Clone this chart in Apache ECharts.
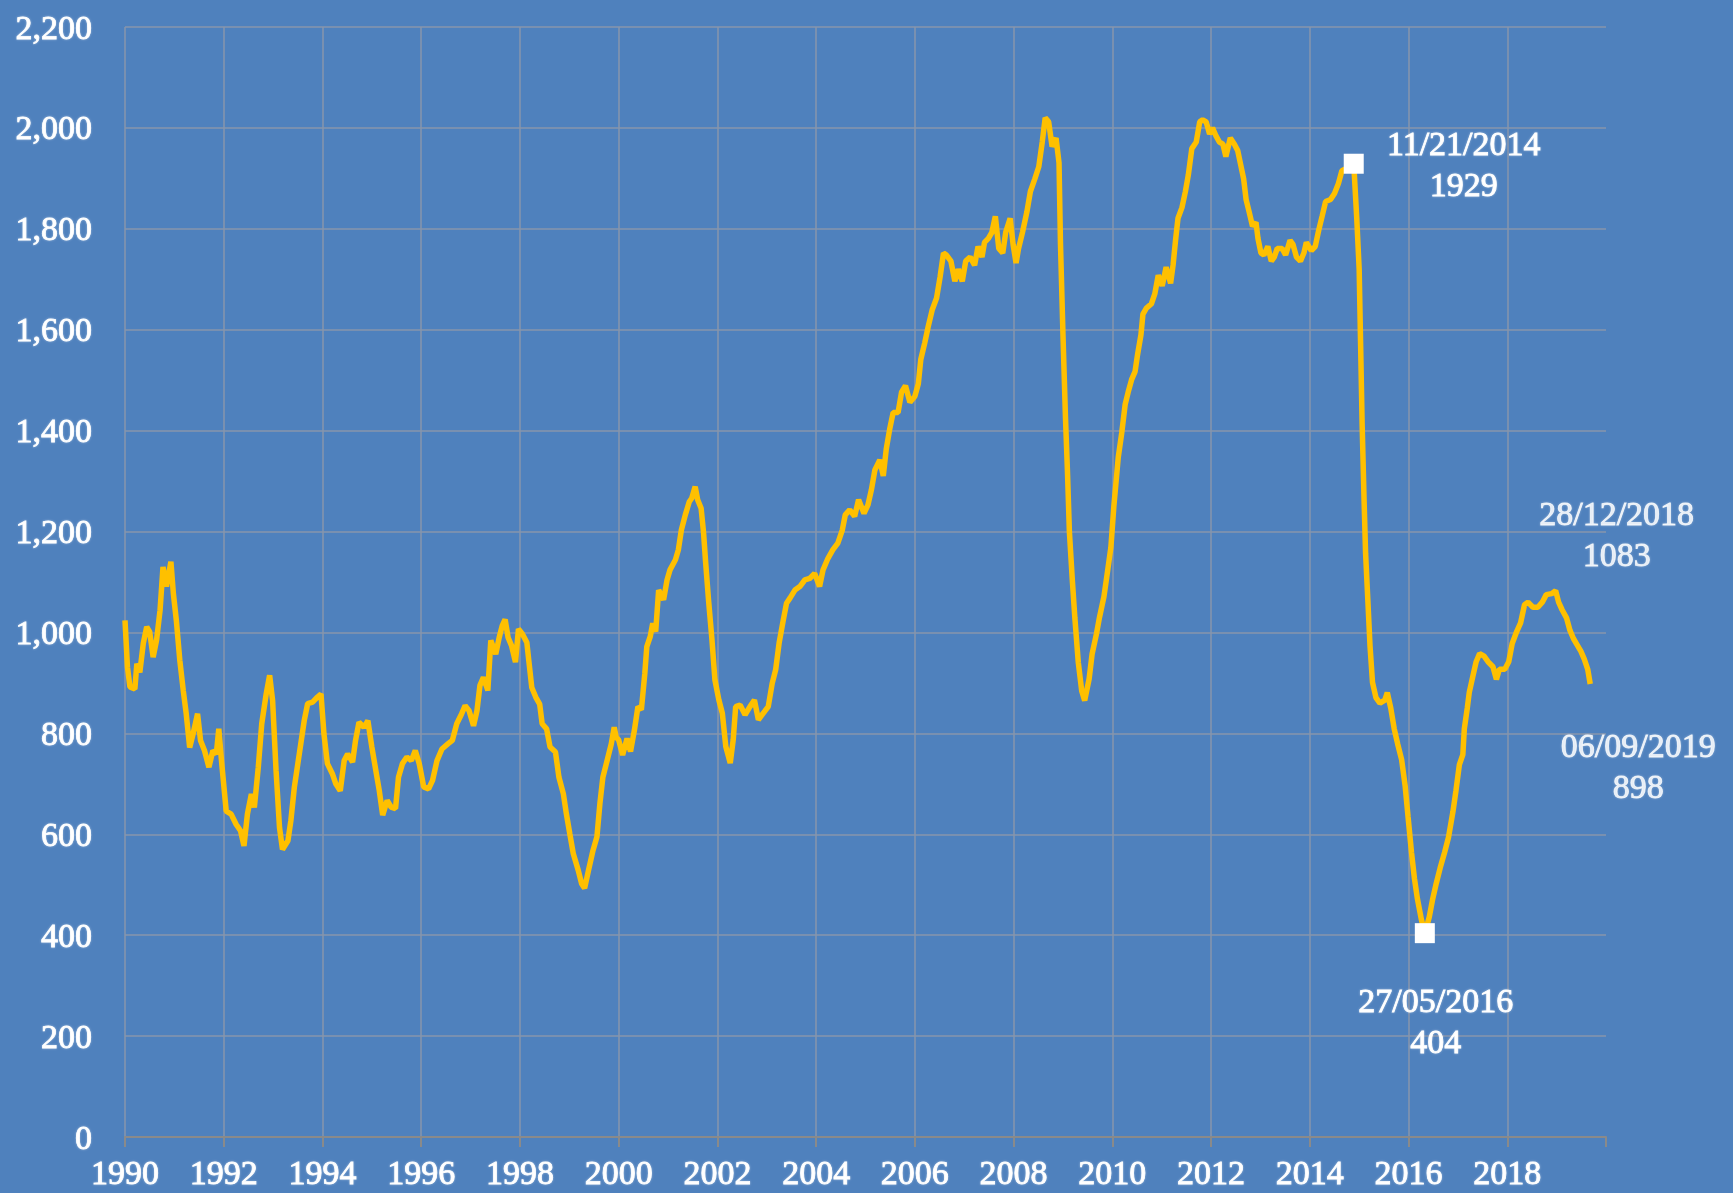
<!DOCTYPE html>
<html>
<head>
<meta charset="utf-8">
<title>Index 1990-2019</title>
<script src="https://cdn.jsdelivr.net/npm/echarts@6/dist/echarts.min.js"></script>
<style>
  html, body { margin: 0; padding: 0; background: #4F81BD; }
  #chart { width: 1733px; height: 1193px; }
</style>
</head>
<body>
<div id="chart"></div>
<script>
// weekly index (decimal years)
var years = [
  1990.00, 1990.05, 1990.10, 1990.20, 1990.24, 1990.30, 1990.37, 1990.44, 1990.50, 1990.57, 1990.64, 1990.71, 1990.77, 1990.84, 1990.93, 1990.98,
  1991.04, 1991.11, 1991.18, 1991.24, 1991.31, 1991.38, 1991.47, 1991.53, 1991.61, 1991.70, 1991.78, 1991.85, 1991.90, 1991.96,
  1992.05, 1992.15, 1992.25, 1992.34, 1992.41, 1992.48, 1992.56, 1992.62, 1992.70, 1992.77, 1992.86, 1992.93, 1992.99,
  1993.06, 1993.13, 1993.19, 1993.30, 1993.36, 1993.43, 1993.53, 1993.63, 1993.70, 1993.80, 1993.90, 1993.97,
  1994.03, 1994.10, 1994.20, 1994.27, 1994.36, 1994.44, 1994.51, 1994.61, 1994.67, 1994.74, 1994.84, 1994.92,
  1995.00, 1995.08, 1995.15, 1995.22, 1995.31, 1995.39, 1995.48, 1995.54, 1995.62, 1995.71, 1995.80, 1995.88, 1995.96,
  1996.05, 1996.15, 1996.23, 1996.32, 1996.42, 1996.54, 1996.63, 1996.72, 1996.82, 1996.89, 1996.97,
  1997.06, 1997.13, 1997.19, 1997.26, 1997.35, 1997.41, 1997.51, 1997.58, 1997.64, 1997.70, 1997.76, 1997.83, 1997.91, 1997.97,
  1998.05, 1998.14, 1998.18, 1998.24, 1998.32, 1998.40, 1998.45, 1998.54, 1998.61, 1998.72, 1998.79, 1998.88, 1998.94,
  1999.01, 1999.08, 1999.18, 1999.25, 1999.31, 1999.39, 1999.48, 1999.56, 1999.62, 1999.68, 1999.75, 1999.85, 1999.91, 1999.95,
  2000.00, 2000.08, 2000.17, 2000.24, 2000.32, 2000.39, 2000.46, 2000.53, 2000.57, 2000.64, 2000.69, 2000.75, 2000.81, 2000.91, 2000.98,
  2001.04, 2001.15, 2001.21, 2001.27, 2001.35, 2001.43, 2001.48, 2001.55, 2001.60, 2001.67, 2001.72, 2001.76, 2001.82, 2001.89, 2001.95,
  2002.03, 2002.10, 2002.17, 2002.26, 2002.32, 2002.37, 2002.46, 2002.56, 2002.66, 2002.75, 2002.83, 2002.93,
  2003.03, 2003.11, 2003.18, 2003.25, 2003.33, 2003.40, 2003.47, 2003.57, 2003.67, 2003.77, 2003.87, 2003.97,
  2004.07, 2004.14, 2004.24, 2004.34, 2004.44, 2004.53, 2004.59, 2004.68, 2004.78, 2004.86, 2004.97,
  2005.05, 2005.12, 2005.19, 2005.29, 2005.36, 2005.42, 2005.49, 2005.56, 2005.66, 2005.73, 2005.81, 2005.90,
  2006.00, 2006.07, 2006.12, 2006.20, 2006.27, 2006.35, 2006.44, 2006.51, 2006.58, 2006.64, 2006.73, 2006.81, 2006.88, 2006.96,
  2007.03, 2007.12, 2007.21, 2007.28, 2007.36, 2007.41, 2007.49, 2007.56, 2007.63, 2007.70, 2007.78, 2007.84, 2007.93, 2007.99,
  2008.05, 2008.10, 2008.18, 2008.27, 2008.34, 2008.43, 2008.51, 2008.58, 2008.64, 2008.71, 2008.78, 2008.86, 2008.92, 2008.95,
  2009.00, 2009.05, 2009.09, 2009.13, 2009.19, 2009.24, 2009.31, 2009.38, 2009.44, 2009.53, 2009.59, 2009.68, 2009.74, 2009.83, 2009.90, 2009.97,
  2010.03, 2010.12, 2010.19, 2010.26, 2010.32, 2010.39, 2010.46, 2010.51, 2010.58, 2010.62, 2010.69, 2010.79, 2010.86, 2010.93,
  2011.01, 2011.09, 2011.18, 2011.23, 2011.28, 2011.33, 2011.41, 2011.48, 2011.54, 2011.61, 2011.70, 2011.77, 2011.83, 2011.90, 2011.97,
  2012.03, 2012.10, 2012.17, 2012.24, 2012.30, 2012.39, 2012.47, 2012.54, 2012.60, 2012.66, 2012.71, 2012.77, 2012.84, 2012.91, 2012.95,
  2013.01, 2013.07, 2013.15, 2013.22, 2013.28, 2013.34, 2013.44, 2013.51, 2013.60, 2013.66, 2013.73, 2013.81, 2013.88, 2013.93,
  2014.03, 2014.11, 2014.18, 2014.25, 2014.32, 2014.42, 2014.50, 2014.58, 2014.65, 2014.79, 2014.89, 2014.95,
  2015.00, 2015.03, 2015.06, 2015.10, 2015.13, 2015.18, 2015.22, 2015.27, 2015.34, 2015.42, 2015.52, 2015.57, 2015.64, 2015.71, 2015.78, 2015.86, 2015.93, 2015.99,
  2016.06, 2016.12, 2016.18, 2016.26, 2016.33, 2016.42, 2016.49, 2016.56, 2016.64, 2016.73, 2016.81, 2016.90, 2016.96,
  2017.03, 2017.10, 2017.13, 2017.19, 2017.23, 2017.30, 2017.37, 2017.44, 2017.53, 2017.61, 2017.71, 2017.78, 2017.84, 2017.95,
  2018.03, 2018.10, 2018.18, 2018.27, 2018.35, 2018.42, 2018.52, 2018.62, 2018.71, 2018.79, 2018.90, 2018.98,
  2019.04, 2019.11, 2019.20, 2019.27, 2019.34, 2019.40, 2019.49, 2019.56, 2019.63, 2019.68
];
var values = [
  1024, 931, 892, 888, 938, 921, 978, 1011, 1001, 951, 985, 1044, 1130, 1091, 1140, 1077,
  1024, 945, 885, 839, 772, 799, 839, 786, 766, 733, 766, 759, 809, 740,
  646, 640, 620, 607, 577, 640, 680, 653, 733, 819, 878, 915, 865,
  726, 613, 570, 587, 627, 693, 759, 825, 859, 862, 872, 878,
  799, 740, 720, 700, 686, 746, 759, 743, 786, 822, 812, 825,
  773, 727, 687, 638, 667, 654, 651, 713, 740, 753, 746, 766, 740,
  694, 690, 707, 746, 769, 779, 786, 819, 839, 855, 845,
  815, 845, 895, 911, 885, 984, 957, 990, 1013, 1026, 990, 974, 941, 1007,
  997, 980, 944, 891, 872, 858, 819, 809, 773, 763, 713, 680, 641,
  601, 562, 529, 502, 493, 529, 568, 595, 661, 713, 740, 779, 812, 792,
  787, 757, 790, 764, 807, 853, 847, 919, 972, 992, 1018, 1002, 1084, 1065, 1104,
  1124, 1144, 1164, 1203, 1233, 1259, 1266, 1289, 1263, 1246, 1197, 1141, 1065, 985, 906,
  866, 840, 774, 741, 787, 853, 856, 837, 853, 866, 827, 840,
  853, 899, 926, 979, 1022, 1058, 1068, 1084, 1091, 1104, 1107, 1117,
  1091, 1124, 1147, 1164, 1177, 1203, 1233, 1243, 1230, 1263, 1236,
  1253, 1283, 1322, 1342, 1310, 1363, 1403, 1436, 1436, 1476, 1489, 1456,
  1468, 1493, 1541, 1574, 1606, 1639, 1663, 1704, 1752, 1748, 1736, 1696, 1720, 1696,
  1736, 1744, 1728, 1765, 1744, 1773, 1781, 1793, 1825, 1761, 1752, 1793, 1821, 1769,
  1732, 1761, 1793, 1834, 1874, 1899, 1923, 1972, 2020, 2012, 1963, 1980, 1931, 1769,
  1590, 1428, 1322, 1200, 1103, 1030, 941, 884, 865, 908, 957, 998, 1030, 1071, 1119, 1168,
  1249, 1347, 1395, 1452, 1476, 1501, 1517, 1550, 1590, 1631, 1643, 1651, 1671, 1708,
  1687, 1724, 1692, 1728, 1777, 1821, 1842, 1874, 1907, 1959, 1972, 2012, 2016, 2012, 1988,
  2000, 1984, 1972, 1968, 1943, 1980, 1968, 1955, 1927, 1899, 1858, 1834, 1805, 1813, 1781,
  1752, 1748, 1765, 1736, 1744, 1761, 1761, 1748, 1777, 1769, 1744, 1736, 1752, 1773,
  1757, 1765, 1797, 1825, 1854, 1858, 1870, 1890, 1915, 1922, 1929, 1823,
  1720, 1567, 1413, 1260, 1157, 1055, 973, 901, 871, 860, 866, 881, 850, 809, 779, 748, 697, 635,
  564, 512, 472, 431, 404, 436, 472, 502, 533, 564, 594, 645, 686,
  738, 758, 809, 850, 881, 912, 942, 958, 953, 942, 932, 907, 927, 927,
  942, 978, 999, 1019, 1055, 1060, 1050, 1050, 1060, 1075, 1077, 1083,
  1060, 1045, 1029, 1004, 988, 978, 963, 947, 927, 898
];

// annotated points
var noteYears = [2014.89, 2016.33, 2018.98, 2019.68];
var noteValues = [1929, 404, 1083, 898];
var noteDates = ['11/21/2014', '27/05/2016', '28/12/2018', '06/09/2019'];

(function() {
  var font = "'Liberation Serif', 'DejaVu Serif', serif";
  var gridColor = '#8796ad';
  var axisColor = '#8a8a8a';
  // label offsets (px) from each annotated point, first two get a white square
  var labelOffsets = [[110, 0], [11, 88], [61, -57], [48, 82]];

  // white text, slightly thickened to look like the heavier original face
  var textLook = {
    color: '#ffffff',
    fontFamily: font,
    fontSize: 34,
    textBorderColor: '#ffffff',
    textBorderWidth: 0.8,
    textShadowColor: 'rgba(255,255,255,0.4)',
    textShadowBlur: 2
  };

  function notePoint(i) {
    return {
      value: [noteYears[i], noteValues[i]],
      label: { offset: labelOffsets[i] }
    };
  }

  var noteLabel = Object.assign({
    show: true,
    position: 'inside',
    align: 'center',
    verticalAlign: 'middle',
    lineHeight: 41,
    formatter: function(p) {
      var i = noteYears.indexOf(p.value[0]);
      return noteDates[i] + '\n' + noteValues[i];
    }
  }, textLook);

  var chart = echarts.init(document.getElementById('chart'), null, { renderer: 'svg' });
  chart.setOption({
    animation: false,
    backgroundColor: '#4F81BD',
    grid: { left: 125, right: 127, top: 27, bottom: 56 },
    xAxis: {
      type: 'value',
      min: 1990,
      max: 2020,
      interval: 2,
      axisLine: { lineStyle: { color: axisColor, width: 2 } },
      axisTick: { length: 10, lineStyle: { color: axisColor, width: 2 } },
      axisLabel: Object.assign({
        margin: 18,
        formatter: function(v) { return v >= 2020 ? '' : String(v); }
      }, textLook),
      splitLine: { show: true, showMaxLine: false, lineStyle: { color: gridColor, width: 1.5 } }
    },
    yAxis: {
      type: 'value',
      min: 0,
      max: 2200,
      interval: 200,
      axisLine: { show: false },
      axisTick: { show: false },
      axisLabel: Object.assign({
        margin: 33,
        formatter: function(v) { return String(v).replace(/\B(?=(\d{3})+(?!\d))/g, ','); }
      }, textLook),
      splitLine: { lineStyle: { color: gridColor, width: 1.5 } }
    },
    series: [
      {
        type: 'line',
        data: years.map(function(y, i) { return [y, values[i]]; }),
        symbol: 'none',
        lineStyle: { color: '#FFC000', width: 5.5 },
        z: 2
      },
      {
        type: 'scatter',
        data: [notePoint(0), notePoint(1)],
        symbol: 'rect',
        symbolSize: 20,
        itemStyle: { color: '#ffffff', opacity: 1 },
        label: noteLabel,
        z: 3
      },
      {
        type: 'scatter',
        data: [notePoint(2), notePoint(3)],
        symbol: 'rect',
        symbolSize: 1,
        itemStyle: { color: 'rgba(0,0,0,0)' },
        label: noteLabel,
        z: 3
      }
    ]
  });
  window.addEventListener('resize', function() { chart.resize(); });
})();
</script>
</body>
</html>
